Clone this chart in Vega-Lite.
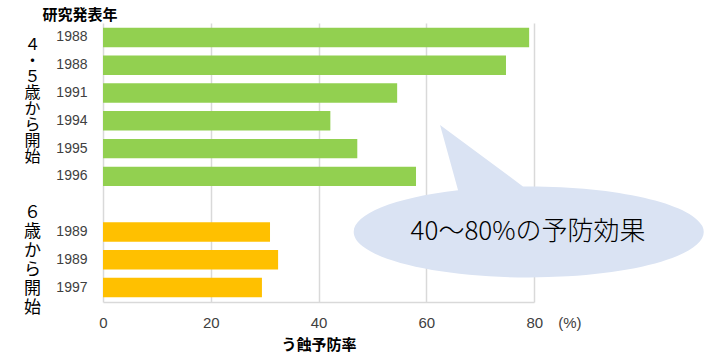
{
  "$schema": "https://vega.github.io/schema/vega-lite/v6.json",
  "width": 431,
  "height": 279,
  "autosize": {"type": "none"},
  "padding": {"left": 103, "top": 23, "right": 174, "bottom": 56},
  "background": "white",
  "config": {"view": {"stroke": null}},
  "datasets": {
    "bars": [
      {"id": "1988_a", "group": "4・5歳", "rate": 79.1},
      {"id": "1988_b", "group": "4・5歳", "rate": 74.8},
      {"id": "1991_a", "group": "4・5歳", "rate": 54.6},
      {"id": "1994_a", "group": "4・5歳", "rate": 42.2},
      {"id": "1995_a", "group": "4・5歳", "rate": 47.2},
      {"id": "1996_a", "group": "4・5歳", "rate": 58.1},
      {"id": "1989_a", "group": "6歳", "rate": 31.0},
      {"id": "1989_b", "group": "6歳", "rate": 32.5},
      {"id": "1997_a", "group": "6歳", "rate": 29.5}
    ],
    "groups": [
      {"id": "1988_a", "set": 1, "x": -13.1, "label": "４\n・\n５\n歳\nか\nら\n開\n始"},
      {"id": "_gap", "set": 2, "x": -13.1, "label": "６\n歳\nか\nら\n開\n始"}
    ],
    "notes": [
      {"id": "1989_a", "x": 78.9, "label": "40～80%の予防効果"}
    ]
  },
  "encoding": {
    "y": {
      "field": "id",
      "type": "nominal",
      "scale": {
        "domain": ["1988_a", "1988_b", "1991_a", "1994_a", "1995_a", "1996_a", "_gap", "1989_a", "1989_b", "1997_a"],
        "paddingInner": 0.3,
        "paddingOuter": 0.17
      },
      "axis": {
        "labelExpr": "split(datum.value, '_')[0]",
        "title": "研究発表年",
        "titleAngle": 0,
        "titleAlign": "left",
        "titleBaseline": "middle",
        "titleX": -61,
        "titleY": -9,
        "titleFont": "Noto Sans CJK JP",
        "titleFontSize": 15,
        "titleFontWeight": "bold",
        "titleColor": "#000000",
        "labelFont": "Liberation Sans",
        "labelFontSize": 14,
        "labelColor": "#404040",
        "labelPadding": 16,
        "ticks": false,
        "tickSize": 0,
        "domain": false,
        "grid": false
      }
    }
  },
  "layer": [
    {
      "data": {"name": "bars"},
      "mark": {"type": "bar"},
      "encoding": {
        "x": {
          "field": "rate",
          "type": "quantitative",
          "scale": {"domain": [0, 80], "nice": false},
          "axis": {
            "values": [0, 20, 40, 60, 80],
            "title": "う蝕予防率",
            "titleFont": "Noto Sans CJK JP",
            "titleFontSize": 15,
            "titleFontWeight": "bold",
            "titleColor": "#000000",
            "titlePadding": 7,
            "labelExpr": "datum.value == 80 ? '80　(%)' : datum.label",
            "labelAlign": {"condition": {"test": "datum.value == 80", "value": "left"}, "value": "center"},
            "labelOffset": {"condition": {"test": "datum.value == 80", "value": -8}, "value": 0},
            "labelFont": "Liberation Sans",
            "labelFontSize": 15,
            "labelColor": "#404040",
            "labelPadding": 13,
            "ticks": false,
            "tickSize": 0,
            "grid": true,
            "gridColor": "#d9d9d9",
            "gridWidth": 1.5,
            "domainColor": "#d9d9d9",
            "domainWidth": 1.5
          }
        },
        "color": {
          "field": "group",
          "type": "nominal",
          "scale": {"domain": ["4・5歳", "6歳"], "range": ["#92d050", "#ffc000"]},
          "legend": null
        }
      }
    },
    {
      "data": {"name": "groups"},
      "transform": [{"filter": "datum.set == 1"}],
      "mark": {
        "type": "text",
        "font": "Noto Sans CJK JP",
        "fontSize": 16,
        "lineHeight": 16,
        "lineBreak": "\n",
        "align": "center",
        "baseline": "middle",
        "color": "#000000",
        "dy": 8
      },
      "encoding": {
        "x": {"field": "x", "type": "quantitative"},
        "text": {"field": "label", "type": "nominal"}
      }
    },
    {
      "data": {"name": "groups"},
      "transform": [{"filter": "datum.set == 2"}],
      "mark": {
        "type": "text",
        "font": "Noto Sans CJK JP",
        "fontSize": 17,
        "lineHeight": 19,
        "lineBreak": "\n",
        "align": "center",
        "baseline": "middle",
        "color": "#000000",
        "dy": 9
      },
      "encoding": {
        "x": {"field": "x", "type": "quantitative"},
        "text": {"field": "label", "type": "nominal"}
      }
    },
    {
      "data": {"name": "notes"},
      "mark": {
        "type": "point",
        "shape": "M -0.4 -0.238 L -0.503 -0.611 L -0.029 -0.26 A 1 0.26 0 1 1 -0.4 -0.238 Z",
        "size": 122500,
        "filled": true,
        "fill": "#dae3f3",
        "fillOpacity": 1,
        "opacity": 1,
        "strokeWidth": 0
      },
      "encoding": {
        "x": {"field": "x", "type": "quantitative"}
      }
    },
    {
      "data": {"name": "notes"},
      "mark": {
        "type": "text",
        "font": "Noto Sans CJK JP",
        "fontSize": 26,
        "fontWeight": 300,
        "align": "center",
        "baseline": "middle",
        "color": "#000000"
      },
      "encoding": {
        "x": {"field": "x", "type": "quantitative"},
        "text": {"field": "label", "type": "nominal"}
      }
    }
  ]
}
